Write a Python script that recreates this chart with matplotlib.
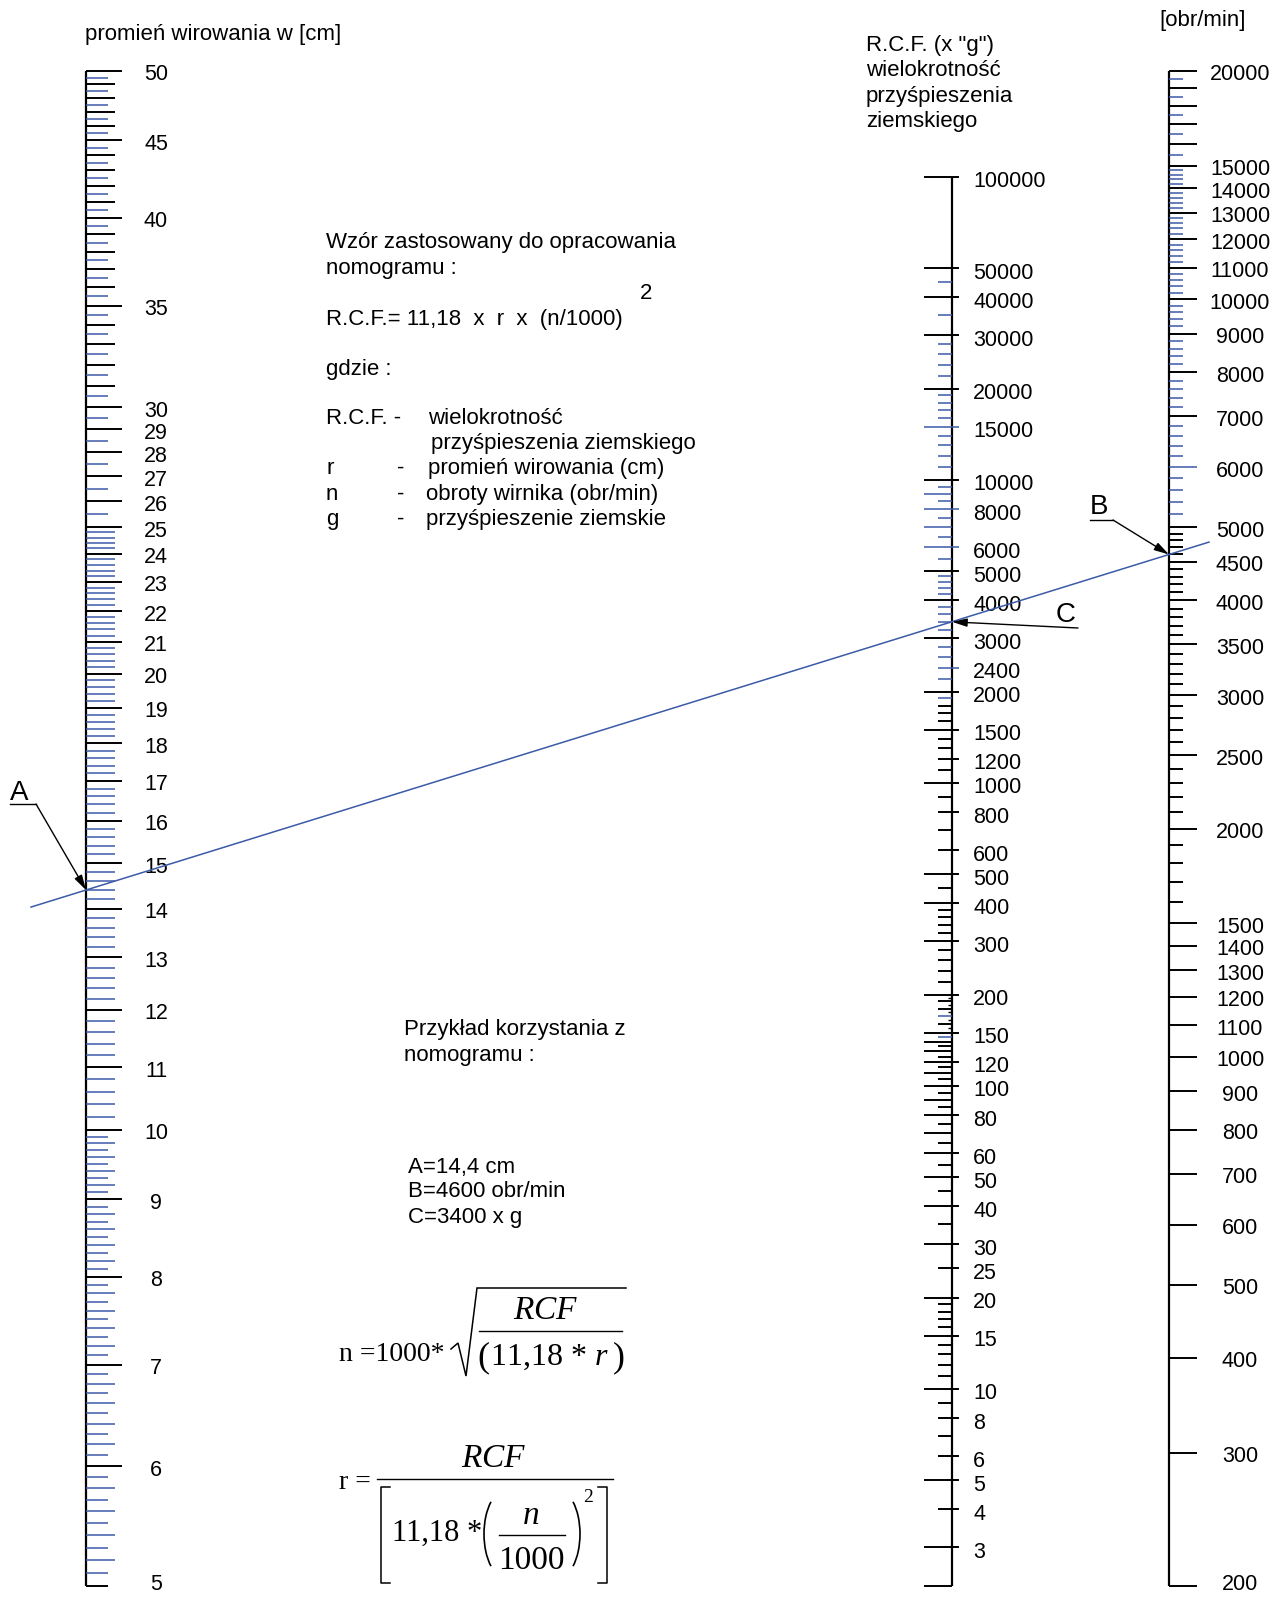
import numpy as np
import matplotlib
matplotlib.use("Agg")
import matplotlib.pyplot as plt
from matplotlib.patches import Arc
from matplotlib.transforms import offset_copy

plt.rcParams['mathtext.fontset'] = 'custom'
plt.rcParams['mathtext.rm'] = 'Liberation Serif'
plt.rcParams['mathtext.it'] = 'Liberation Serif:italic'

W, H = 1280, 1597
BLUE = '#3c5aa8'
SANS = ['Liberation Sans', 'DejaVu Sans']
SERIF = ['Liberation Serif', 'DejaVu Serif']

# ---- scales of the nomogram: RCF = 11.18 * r * (n/1000)^2 ----
K = 11.18
R_RANGE = (5, 50)              # radius [cm]
N_RANGE = (200, 20000)         # rotor speed [rpm]
RCF_RANGE = (K * R_RANGE[0] * (N_RANGE[0] / 1000) ** 2,
             K * R_RANGE[1] * (N_RANGE[1] / 1000) ** 2)
RCF_TOP = 100000

# worked example
A_R = 14.4
B_N = 4600
C_RCF = 3400

# ---- radius scale ticks ----
r_labels = [50, 45, 40, 35, 30, 29, 28, 27, 26, 25, 24, 23, 22, 21, 20, 19,
            18, 17, 16, 15, 14, 13, 12, 11, 10, 9, 8, 7, 6, 5]
r_black_minor = [v for v in range(31, 50) if v % 5]
r_blue_short = ([v + 0.5 for v in range(25, 50)] +
                [round(v, 1) for v in np.arange(5.1, 10.0, 0.2)])
r_blue_long = ([round(v, 1) for v in np.arange(10.2, 25.0, 0.2)
                if abs(v - round(v)) > 1e-6] +
               [round(v, 1) for v in np.arange(5.2, 10.0, 0.2)
                if abs(v - round(v)) > 1e-6])

# ---- RCF scale ticks ----
c_long_lbl = [100000, 50000, 40000, 30000, 20000, 10000, 5000, 4000, 3000,
              2000, 1500, 1000, 500, 400, 300, 200, 150, 120, 100, 80, 60,
              50, 40, 30, 20, 15, 10, 5, 3]
c_short_lbl = [1200, 800, 600, 25, 8, 6, 4]
c_short_lbl_blue = [2400]
c_long_lbl_blue = [15000, 8000, 6000]
c_long_left_blue = [9000, 7000]
c_long_left_black = [140, 130, 110, 90, 70]
c_blue_short = [45000, 35000, 28000, 26000, 24000, 22000, 19000, 18000,
                17000, 16000, 14000, 13000, 12000, 11000, 9500, 8500, 7500,
                6500, 5500, 4800, 4600, 4400, 4200, 3800, 3600, 3400, 3200,
                2800, 2600, 2200, 1900, 170, 145]
c_black_short = [1800, 1700, 1600, 1400, 1300, 1100, 900, 700, 450, 380, 360,
                 340, 320, 280, 260, 240, 220, 190, 180, 160, 135, 125, 115,
                 105, 95, 85, 75, 65, 55, 45, 35, 19, 18, 17, 16, 14, 13, 12,
                 11, 9, 7]
c_tiny = [195, 185, 175, 165, 155]

# ---- speed scale ticks ----
n_lbl = [20000, 15000, 14000, 13000, 12000, 11000, 10000, 9000, 8000, 7000,
         5000, 4500, 4000, 3500, 3000, 2500, 2000, 1500, 1400, 1300, 1200,
         1100, 1000, 900, 800, 700, 600, 500, 400, 300, 200]
n_lbl_blue = [6000]
n_long_black = [19000, 18000, 17000, 16000]
n_blue_short = ([19500, 18500, 17500, 16500, 15500] +
                [v for v in range(6200, 15000, 200) if v % 1000] +
                [5800, 5600, 5400, 5200])
n_black_short = [v for v in range(1600, 5000, 100) if v % 500]

# ---- layout (pixels) ----
TOP_PX, BOT_PX = 71, 1586
X_R, X_C, X_N = 86, 952, 1169

fig = plt.figure(figsize=(W / 100, H / 100), dpi=100)


def scale_axes(x_px, lo, hi):
    ax = fig.add_axes([(x_px - 150) / W, (H - BOT_PX) / H, 300 / W,
                       (BOT_PX - TOP_PX) / H])
    ax.set_xlim(-150, 150)
    ax.set_yscale('log')
    ax.set_ylim(lo, hi)
    ax.set_axis_off()
    return ax


def ticks(ax, vals, x0, x1, color='black', lw=1.4):
    ax.hlines(vals, x0, x1, colors=color, linewidth=lw, clip_on=False)


def labels(ax, vals, x, ha, dy=-4, size=15.5, bottom=None):
    for v in vals:
        shift = dy + (6 if v == bottom else 0)
        trans = offset_copy(ax.transData, fig=fig, x=0, y=shift, units='dots')
        ax.text(x, v, f"{v:g}", ha=ha, va='center', fontsize=size,
                family=SANS, color='black', transform=trans)


# radius scale (left)
ax_r = scale_axes(X_R, *R_RANGE)
ax_r.vlines(0, *R_RANGE, colors='black', linewidth=1.6)
ticks(ax_r, r_blue_short, 0, 22, BLUE, 1.1)
ticks(ax_r, r_blue_long, 0, 29, BLUE, 1.1)
ticks(ax_r, r_black_minor, 0, 29)
ticks(ax_r, [v for v in r_labels if v != R_RANGE[0]], 0, 36)
ticks(ax_r, [R_RANGE[0]], 0, 22)
labels(ax_r, r_labels, 70, 'center', bottom=R_RANGE[0])

# RCF scale (middle)
ax_c = scale_axes(X_C, *RCF_RANGE)
ax_c.vlines(0, RCF_RANGE[0], RCF_TOP, colors='black', linewidth=1.6)
ticks(ax_c, c_long_lbl, -28, 7)
ticks(ax_c, c_short_lbl, -14, 7)
ticks(ax_c, c_short_lbl_blue, -14, 7, BLUE, 1.1)
ticks(ax_c, c_long_lbl_blue, -28, 7, BLUE, 1.1)
ticks(ax_c, c_long_left_blue, -28, 0, BLUE, 1.1)
ticks(ax_c, c_long_left_black, -28, 0)
ticks(ax_c, c_blue_short, -14, 0, BLUE, 1.1)
ticks(ax_c, c_black_short, -14, 0)
ticks(ax_c, c_tiny, -4, 0, lw=1.0)
ticks(ax_c, [RCF_RANGE[0]], -28, 0)
labels(ax_c, c_long_lbl + c_short_lbl + c_short_lbl_blue + c_long_lbl_blue,
       21, 'left', dy=-5)

# speed scale (right)
ax_n = scale_axes(X_N, *N_RANGE)
ax_n.vlines(0, *N_RANGE, colors='black', linewidth=1.6)
ticks(ax_n, n_blue_short, 0, 14, BLUE, 1.1)
ticks(ax_n, n_black_short, 0, 14)
ticks(ax_n, n_long_black, 0, 28)
ticks(ax_n, n_lbl, 0, 28)
ticks(ax_n, n_lbl_blue, 0, 28, BLUE, 1.1)
labels(ax_n, n_lbl + n_lbl_blue, 71, 'center', bottom=N_RANGE[0])

# ---- overlay in pixel coordinates for texts and the example ----
ax0 = fig.add_axes([0, 0, 1, 1])
ax0.set_xlim(0, W)
ax0.set_ylim(H, 0)
ax0.set_axis_off()


def to_px(ax, v):
    disp = ax.transData.transform((0, v))
    return ax0.transData.inverted().transform(disp)


pA = to_px(ax_r, A_R)
pB = to_px(ax_n, B_N)
pC = to_px(ax_c, C_RCF)

# isopleth through A and B, extended past both scales
slope = (pB[1] - pA[1]) / (pB[0] - pA[0])
x_ends = np.array([31, 1209])
ax0.plot(x_ends, pA[1] + slope * (x_ends - pA[0]), color=BLUE, lw=1.1)


def txt(x, y, s, size=16, **kw):
    ax0.text(x, y + 2.5, s, fontsize=size, family=kw.pop('family', SANS),
             ha=kw.pop('ha', 'left'), va=kw.pop('va', 'center'), **kw)


arrow = dict(arrowstyle='-|>,head_length=0.9,head_width=0.25',
             color='black', lw=1.0, shrinkA=0, shrinkB=0)
# A
txt(19, 790, "A", size=20, ha='center')
ax0.plot([10, 36], [804, 804], color='black', lw=1.0)
ax0.annotate('', xy=pA, xytext=(36, 804), arrowprops=arrow)
# B
txt(1099, 504, "B", size=20, ha='center')
ax0.plot([1090, 1113], [520, 520], color='black', lw=1.0)
ax0.annotate('', xy=pB, xytext=(1113, 520), arrowprops=arrow)
# C
txt(1066, 613, "C", size=20, ha='center')
ax0.annotate('', xy=pC, xytext=(1078, 628), arrowprops=arrow)

# scale titles
txt(85, 32, "promień wirowania w [cm]")
txt(1159, 18, "[obr/min]")
for i, line in enumerate(['R.C.F. (x "g")', "wielokrotność",
                          "przyśpieszenia", "ziemskiego"]):
    txt(866, 43 + i * 25.4, line)

# formula description
txt(326, 240, "Wzór zastosowany do opracowania")
txt(326, 266, "nomogramu :")
txt(640, 291, "2")
txt(326, 317, "R.C.F.= 11,18  x  r  x  (n/1000)")
txt(326, 367, "gdzie :")
txt(326, 416, "R.C.F. -")
txt(428, 416, "wielokrotność")
txt(431, 441, "przyśpieszenia ziemskiego")
for y, sym, desc in [(466, "r", "promień wirowania (cm)"),
                     (492, "n", "obroty wirnika (obr/min)"),
                     (517, "g", "przyśpieszenie ziemskie")]:
    txt(326, y, sym)
    txt(397, y, "-")
    txt(428 if sym == "r" else 426, y, desc)

# worked example text
txt(404, 1027, "Przykład korzystania z")
txt(404, 1053, "nomogramu :")
txt(408, 1165, f"A={A_R:g} cm".replace('.', ','))
txt(408, 1189, f"B={B_N} obr/min")
txt(408, 1215, f"C={C_RCF} x g")

# n = 1000 * sqrt(RCF / (11,18 * r))
txt(339, 1352, "n =1000*", size=20, family=SERIF)
ax0.plot([451, 458, 466, 477, 626], [1349, 1343, 1376, 1288, 1288],
         color='black', lw=1.1, solid_joinstyle='miter')
txt(546, 1308, "$RCF$", size=24, ha='center')
ax0.plot([479, 622], [1331, 1331], color='black', lw=1.0)
txt(477, 1355, "(", size=26, family=SERIF)
txt(490, 1355, r"$11{,}18\,*\,r$", size=23)
txt(625, 1355, ")", size=26, family=SERIF, ha='right')

# r = RCF / [11,18 * (n/1000)^2]
txt(339, 1480, "r =", size=20, family=SERIF)
ax0.plot([377, 613], [1479, 1479], color='black', lw=1.0)
txt(494, 1456, "$RCF$", size=24, ha='center')
ax0.plot([390, 381, 381, 390], [1487, 1487, 1583, 1583], color='black', lw=1.1)
ax0.plot([598, 607, 607, 598], [1487, 1487, 1583, 1583], color='black', lw=1.1)
txt(392, 1531, "11,18 *", size=22, family=SERIF)
ax0.add_patch(Arc((506, 1534), 44, 88, theta1=115, theta2=245,
                  color='black', lw=1.2))
ax0.add_patch(Arc((558, 1534), 44, 88, theta1=-65, theta2=65,
                  color='black', lw=1.2))
txt(531, 1513, "$n$", size=24, ha='center')
ax0.plot([499, 565], [1535, 1535], color='black', lw=1.0)
txt(531, 1558, "1000", size=24, family=SERIF, ha='center')
txt(588, 1495, "2", size=14, family=SERIF, ha='center')

fig.savefig("out.png", dpi=100)
